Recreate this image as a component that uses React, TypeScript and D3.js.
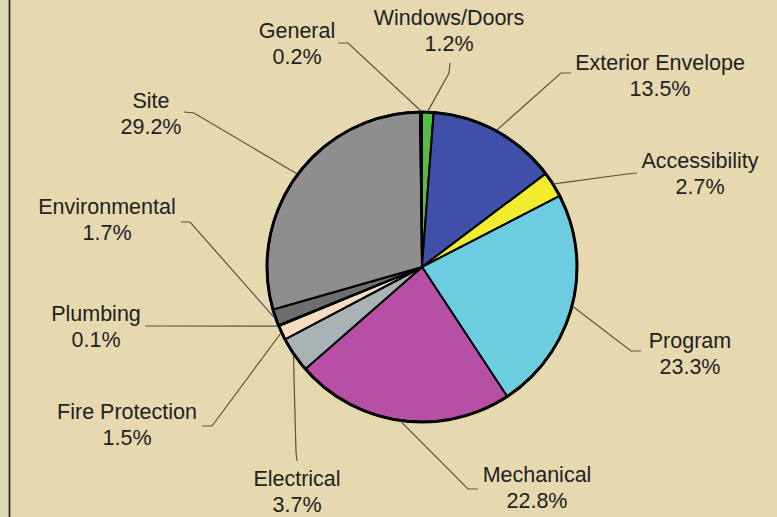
import React from "react";
import * as d3 from "d3";

const categories = ["Windows/Doors", "Exterior Envelope", "Accessibility", "Program", "Mechanical", "Electrical", "Fire Protection", "Plumbing", "Environmental", "Site", "General"];
const values = [1.2, 13.5, 2.7, 23.3, 22.8, 3.7, 1.5, 0.1, 1.7, 29.2, 0.2];
const colors = ["#55bb44", "#3e50a8", "#f2ec2e", "#6ccde0", "#b84fa6", "#a8b3b6", "#f6dcc0", "#dddddd", "#6e6e6e", "#8e8e8e", "#e4e4e4"];
// label text centers (layout)
const labelX = [449, 660, 700, 690, 537, 297, 127, 96, 107, 151, 297];
const labelY = [17, 62, 160, 340, 474, 478, 411, 313, 206, 100, 30];
// leader line: text-side end and tick end (layout)
const lineX = [450, 571, 637, 641, 478, 297, 202, 145, 181, 184, 338];
const lineY = [63, 73, 173, 351, 489, 461, 426, 326, 222, 112, 43];
const tickX = [449, 561, 627, 631, 468, 296, 212, 160, 190, 194, 348];
const tickY = [73, 73, 174, 351, 489, 452, 426, 326, 222, 113, 43];

export default function App() {
  const W = 777, H = 517;
  const cx = 422, cy = 267, r = 155;
  const pie = d3.pie<number>().sort(null).value((d) => d);
  const arcs = pie(values);
  const arc = d3.arc<d3.PieArcDatum<number>>().innerRadius(0).outerRadius(r);
  const edge = d3.arc<d3.PieArcDatum<number>>().innerRadius(r + 1).outerRadius(r + 1);
  const fs = 21.5;
  return (
    <svg width={W} height={H} style={{ position: "absolute", left: 0, top: 0, display: "block" }}>
      <rect x={0} y={0} width={W} height={H} fill="#e6d9b0" />
      <rect x={0} y={0} width={9} height={H} fill="#d7dab7" />
      <line x1={9.5} y1={0} x2={9.5} y2={H} stroke="#1a1a1a" strokeWidth={1.6} />
      <g transform={`translate(${cx},${cy})`}>
        {arcs.map((a, i) => (
          <path key={i} d={arc(a) || ""} fill={colors[i]} stroke="#000" strokeWidth={2} strokeLinejoin="round" />
        ))}
        <circle r={r} fill="none" stroke="#000" strokeWidth={3} />
      </g>
      {arcs.map((a, i) => {
        const [ex, ey] = edge.centroid(a);
        return (
          <polyline key={"l" + i} points={`${lineX[i]},${lineY[i]} ${tickX[i]},${tickY[i]} ${cx + ex},${cy + ey}`} fill="none" stroke="#5a5440" strokeWidth={1.2} />
        );
      })}
      {categories.map((c, i) => (
        <text key={"t" + i} x={labelX[i]} y={labelY[i]} textAnchor="middle" fontFamily="Liberation Sans, Arial, sans-serif" fontSize={fs} fill="#222">
          <tspan x={labelX[i]} dy="0.36em">{c}</tspan>
          <tspan x={labelX[i]} dy="26">{values[i].toFixed(1)}%</tspan>
        </text>
      ))}
    </svg>
  );
}
